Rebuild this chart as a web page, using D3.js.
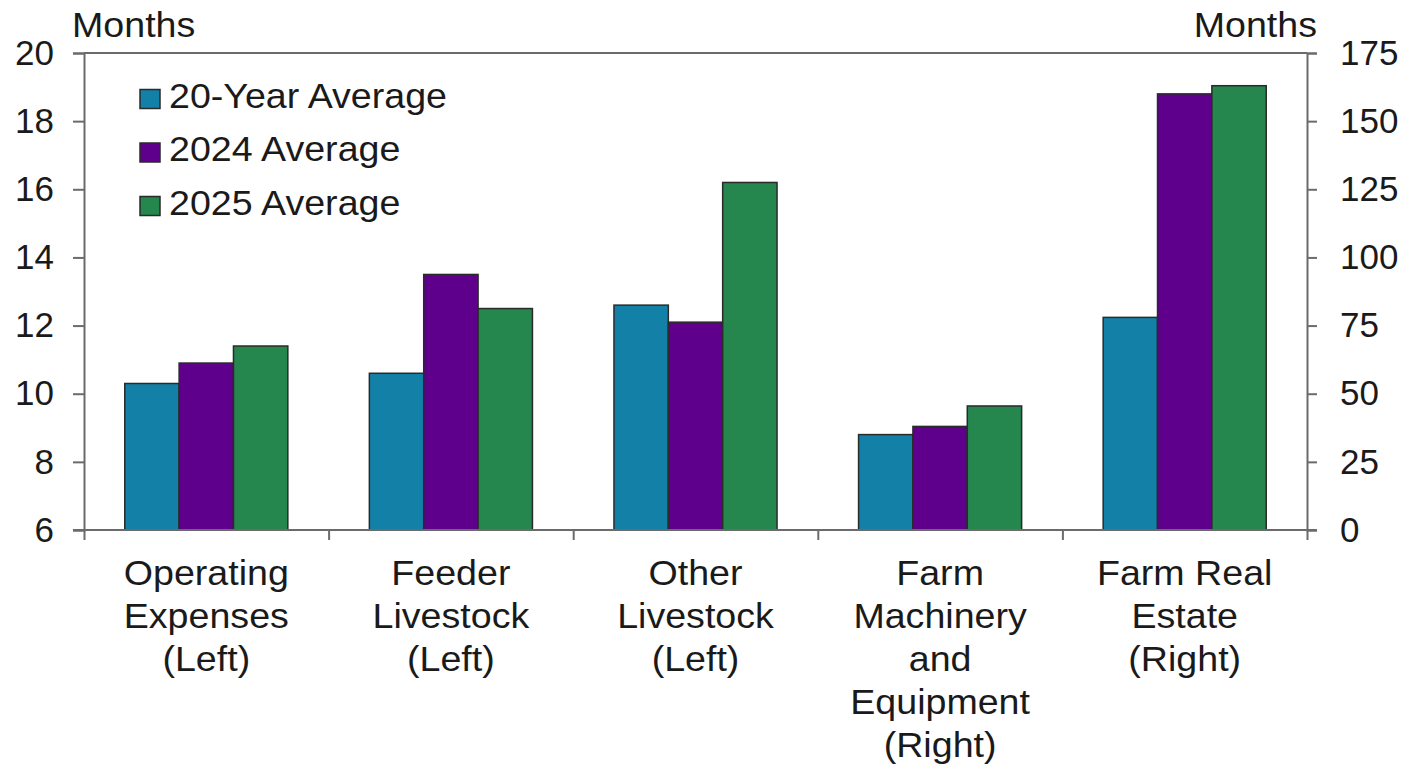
<!DOCTYPE html>
<html>
<head>
<meta charset="utf-8">
<script src="https://cdn.jsdelivr.net/npm/d3@7"></script>
<style>
  html, body { margin: 0; padding: 0; background: #fff; }
  svg { display: block; font-family: "Liberation Sans", Arial, sans-serif; }
</style>
</head>
<body>
<svg id="chart" width="1421" height="769"></svg>
<script>
// Loan maturity by loan type, in months
const categories = [
  ["Operating", "Expenses", "(Left)"],
  ["Feeder", "Livestock", "(Left)"],
  ["Other", "Livestock", "(Left)"],
  ["Farm", "Machinery", "and", "Equipment", "(Right)"],
  ["Farm Real", "Estate", "(Right)"]
];
const axisSide = ["left", "left", "left", "right", "right"];

const seriesNames = ["20-Year Average", "2024 Average", "2025 Average"];
const seriesColors = ["#1380a8", "#5e008c", "#25864e"];

const twentyYearAvg = [10.3, 10.6, 12.6, 35, 78];
const avg2024 = [10.9, 13.5, 12.1, 38, 160];
const avg2025 = [11.4, 12.5, 16.2, 45.5, 163];

const leftTicks = [6, 8, 10, 12, 14, 16, 18, 20];
const rightTicks = [0, 25, 50, 75, 100, 125, 150, 175];

const seriesValues = [twentyYearAvg, avg2024, avg2025];

const svg = d3.select("#chart");
const plot = { left: 84, right: 1307, top: 53, bottom: 530 };
const axisColor = "#6b6b6b";
const textColor = "#1a1a1a";
const stretch = 1.045; // slightly wide lettering

const catIndex = d3.range(categories.length);
const x = d3.scaleBand().domain(catIndex).range([plot.left, plot.right]).padding(0);
const yLeft = d3.scaleLinear().domain([6, 20]).range([plot.bottom, plot.top]);
const yRight = d3.scaleLinear().domain([0, 175]).range([plot.bottom, plot.top]);

// Three bars per group, with a 150% gap between groups
const barW = x.bandwidth() / 4.5;
const inner = d3.scaleBand().domain(d3.range(seriesNames.length))
  .range([0.75 * barW, 0.75 * barW + 3 * barW]).padding(0);

// Bars
seriesValues.forEach((vals, s) => {
  svg.append("g")
    .selectAll("rect")
    .data(vals.map((v, i) => ({ v, i })))
    .join("rect")
    .attr("x", d => x(d.i) + inner(s))
    .attr("width", inner.bandwidth())
    .attr("y", d => (axisSide[d.i] === "left" ? yLeft : yRight)(d.v))
    .attr("height", d => plot.bottom - (axisSide[d.i] === "left" ? yLeft : yRight)(d.v))
    .attr("fill", seriesColors[s])
    .attr("stroke", "#2a2a2a")
    .attr("stroke-width", 1.5);
});

// Top border
svg.append("line")
  .attr("x1", plot.left).attr("x2", plot.right)
  .attr("y1", plot.top).attr("y2", plot.top)
  .attr("stroke", axisColor).attr("stroke-width", 2);

// Left axis
const gl = svg.append("g")
  .attr("transform", `translate(${plot.left},0)`)
  .call(d3.axisLeft(yLeft).tickValues(leftTicks).tickSize(11).tickPadding(19).tickFormat(d3.format("d")));

// Right axis
const gr = svg.append("g")
  .attr("transform", `translate(${plot.right},0)`)
  .call(d3.axisRight(yRight).tickValues(rightTicks).tickSize(10).tickPadding(23).tickFormat(d3.format("d")));

// Bottom axis with ticks between categories
const gb = svg.append("g")
  .attr("transform", `translate(0,${plot.bottom})`)
  .call(d3.axisBottom(d3.scaleLinear().domain([0, categories.length]).range([plot.left, plot.right]))
    .tickValues(d3.range(categories.length + 1)).tickSize(10).tickFormat(""));

[gl, gr, gb].forEach(g => {
  g.selectAll(".domain").attr("stroke", axisColor).attr("stroke-width", 2);
  g.selectAll(".tick line").attr("stroke", axisColor).attr("stroke-width", 2);
  g.selectAll(".tick text")
    .attr("fill", textColor)
    .style("font-size", "35px")
    .style("font-family", '"Liberation Sans", Arial, sans-serif');
});
gb.select(".domain").attr("d", `M${plot.left - 11},0H${plot.right + 10}`);

// Text placed at (px, py) and widened a little
function wideText(parent, px, py) {
  return parent.append("text")
    .attr("transform", `translate(${px},${py}) scale(${stretch},1)`)
    .attr("fill", textColor)
    .style("font-size", "36px");
}

// Axis titles
wideText(svg, 72, 37).text("Months");
wideText(svg, 1317, 37).attr("text-anchor", "end").text("Months");

// Category labels
const catLabels = svg.append("g");
categories.forEach((lines, i) => {
  const t = wideText(catLabels, x(i) + x.bandwidth() / 2, 585)
    .attr("text-anchor", "middle");
  lines.forEach((line, j) => {
    t.append("tspan")
      .attr("x", 0)
      .attr("y", j * 43)
      .text(line);
  });
});

// Legend
const legend = svg.append("g");
seriesNames.forEach((name, s) => {
  const baseY = 107.5 + s * 53.5;
  legend.append("rect")
    .attr("x", 140).attr("y", baseY - 18)
    .attr("width", 20).attr("height", 19)
    .attr("fill", seriesColors[s])
    .attr("stroke", "#2a2a2a").attr("stroke-width", 1.5);
  wideText(legend, 169, baseY).text(name);
});
</script>
</body>
</html>
